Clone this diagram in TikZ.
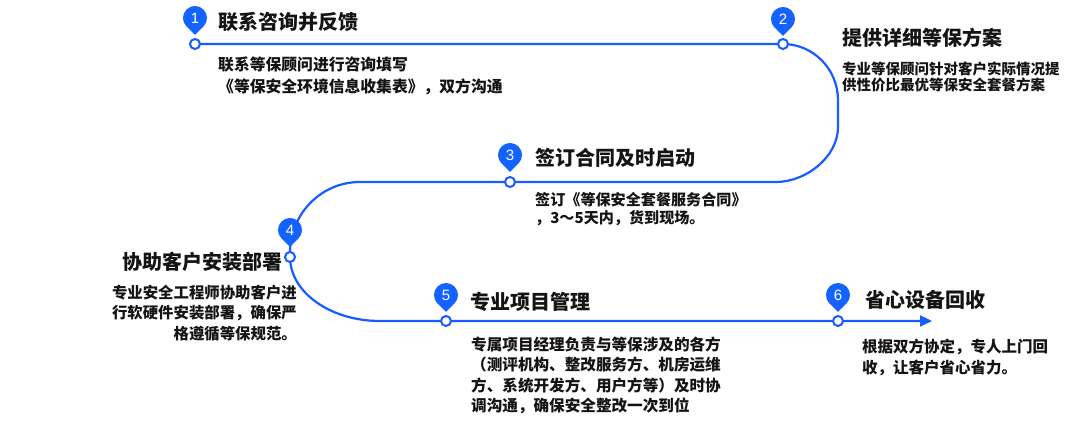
\documentclass[tikz,border=0pt]{standalone}
\usepackage{fontspec}
\usetikzlibrary{arrows.meta,calc}
\newfontfamily\cjk{Noto Sans CJK SC}
\newfontfamily\numfont{Liberation Sans}
\definecolor{lineblue}{HTML}{175CFF}
\definecolor{pinblue}{HTML}{1462FF}
\definecolor{txt}{HTML}{141414}
\tikzset{
  flow/.style={draw=lineblue, line width=2.2pt},
  stopmark/.style={circle, draw=lineblue, fill=white, line width=2pt, minimum size=10pt, inner sep=0pt},
  pinbody/.style={fill=pinblue},
  pinnum/.style={text=white, inner sep=0pt, font=\numfont\fontsize{15}{15}\selectfont},
  titletext/.style={inner sep=0pt, text=txt, font=\cjk\bfseries\fontsize{20}{22}\selectfont},
  desctext/.style={inner sep=0pt, text=txt, align=left, anchor=north west, font=\cjk\bfseries\fontsize{15.5}{20}\selectfont},
}
\newcommand{\pinat}[3]{%
  \fill[pinbody] ($(#1)+(0,-17)$) -- ($(#1)+(-45:12)$) arc[start angle=-45,end angle=225,radius=12] -- cycle;
  \node[pinnum] (#2) at (#1) {#3};}
\begin{document}
\begin{tikzpicture}[x=1pt,y=1pt]
\useasboundingbox[fill=white] (0,0) rectangle (1080,427);
% stop points
\coordinate (p1) at (195,383);
\coordinate (p2) at (783,383);
\coordinate (p3) at (510,245);
\coordinate (p4) at (290,170);
\coordinate (p5) at (446,106);
\coordinate (p6) at (838,106);
\coordinate (pend) at (932,106);
\coordinate (r1) at (838,327);
\coordinate (r2) at (838,300);
\coordinate (r3) at (776,245);
\coordinate (l1) at (360,245);
\coordinate (l2) at (290,174);
\coordinate (l3) at (380,106);
% main flow line
\draw[flow, -{Triangle[length=12pt,width=11pt]}]
  (p1) -- (p2) .. controls (813,383) and (838,358) .. (r1) -- (r2)
  .. controls (838,270) and (806,245) .. (r3) -- (p3) -- (l1)
  .. controls (321,245) and (290,213) .. (l2) -- (p4)
  .. controls (290,135) and (330,106) .. (l3) -- (p5) -- (p6) -- (pend);
% stop circles
\node[stopmark] (c1) at (p1) {};
\node[stopmark] (c2) at (p2) {};
\node[stopmark] (c3) at (p3) {};
\node[stopmark] (c4) at (p4) {};
\node[stopmark] (c5) at (p5) {};
\node[stopmark] (c6) at (p6) {};
% pins
\coordinate (q1) at (195,409);
\coordinate (q2) at (783,408);
\coordinate (q3) at (510,272);
\coordinate (q4) at (290,197);
\coordinate (q5) at (446,132);
\coordinate (q6) at (838,132);
\pinat{q1}{n1}{1}
\pinat{q2}{n2}{2}
\pinat{q3}{n3}{3}
\pinat{q4}{n4}{4}
\pinat{q5}{n5}{5}
\pinat{q6}{n6}{6}
% titles
\node[titletext, anchor=west] (t1) at (218,405) {联系咨询并反馈};
\node[titletext, anchor=west] (t2) at (842,389) {提供详细等保方案};
\node[titletext, anchor=west] (t3) at (535,269) {签订合同及时启动};
\node[titletext, anchor=east] (t4) at (283,165) {协助客户安装部署};
\node[titletext, anchor=west] (t5) at (470,125) {专业项目管理};
\node[titletext, anchor=west] (t6) at (865,127) {省心设备回收};
% descriptions
\node[desctext, font=\cjk\bfseries\fontsize{15.8}{22}\selectfont] (d1) at (218,370)
  {联系等保顾问进行咨询填写\\《等保安全环境信息收集表》，双方沟通};
\node[desctext, font=\cjk\bfseries\fontsize{14.5}{16.5}\selectfont] (d2) at (842,365.5)
  {专业等保顾问针对客户实际情况提\\供性价比最优等保安全套餐方案};
\node[desctext, font=\cjk\bfseries\fontsize{15.1}{17.5}\selectfont] (d3) at (535,234.5)
  {签订《等保安全套餐服务合同》\\，3～5天内，货到现场。};
\node[desctext, anchor=north east, align=right, font=\cjk\bfseries\fontsize{15.4}{20.5}\selectfont] (d4) at (297,142.5)
  {专业安全工程师协助客户进\\行软硬件安装部署，确保严\\格遵循等保规范。};
\node[desctext, font=\cjk\bfseries\fontsize{15.6}{20.2}\selectfont] (d5) at (471,90)
  {专属项目经理负责与等保涉及的各方\\（测评机构、整改服务方、机房运维\\方、系统开发方、用户方等）及时协\\调沟通，确保安全整改一次到位};
\node[desctext, font=\cjk\bfseries\fontsize{15.5}{21}\selectfont] (d6) at (862,88.5)
  {根据双方协定，专人上门回\\收，让客户省心省力。};
\end{tikzpicture}
\end{document}
